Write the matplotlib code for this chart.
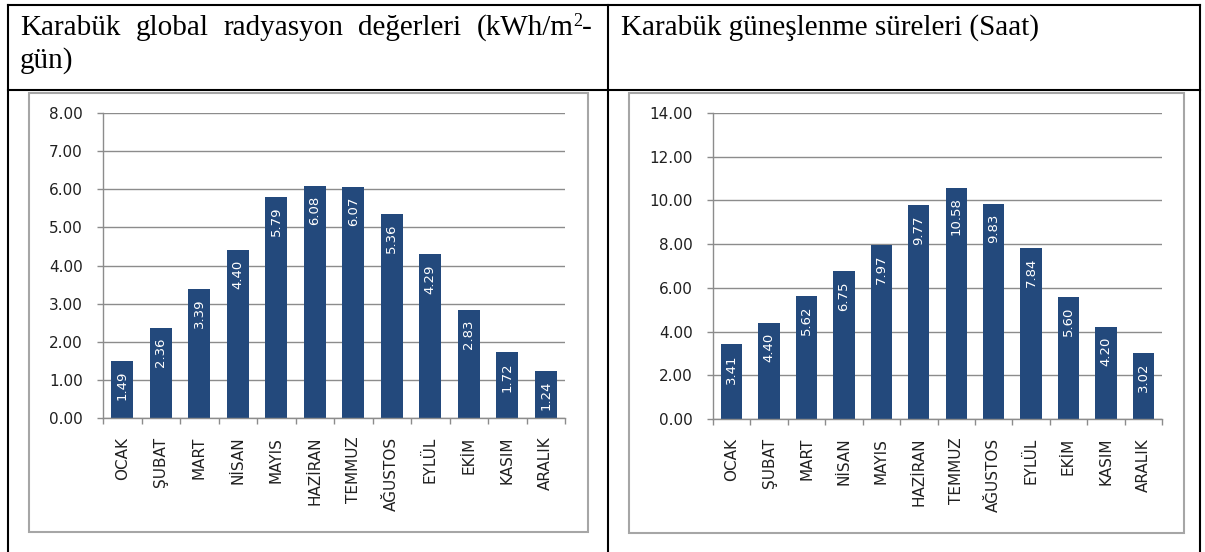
import numpy as np
import matplotlib
matplotlib.use('Agg')
import matplotlib.pyplot as plt
from matplotlib.patches import Rectangle
from matplotlib.ticker import FormatStrFormatter

months = ['OCAK', 'ŞUBAT', 'MART', 'NİSAN', 'MAYIS', 'HAZİRAN',
          'TEMMUZ', 'AĞUSTOS', 'EYLÜL', 'EKİM', 'KASIM', 'ARALIK']
radiation = [1.49, 2.36, 3.39, 4.40, 5.79, 6.08, 6.07, 5.36, 4.29, 2.83, 1.72, 1.24]
sunshine = [3.41, 4.40, 5.62, 6.75, 7.97, 9.77, 10.58, 9.83, 7.84, 5.60, 4.20, 3.02]

title_left = ['Karabük', 'global', 'radyasyon', 'değerleri', '(kWh/m']
title_left_2 = 'gün)'
title_right = 'Karabük güneşlenme süreleri (Saat)'

BAR = '#23497C'
GRID = '#8C8C8C'
W, H = 1205, 552

plt.rcParams['font.family'] = 'DejaVu Sans'

fig = plt.figure(figsize=(W / 100, H / 100), dpi=100)

# background layer in pixel coordinates: table lines, chart frames, header text
bg = fig.add_axes([0, 0, 1, 1])
bg.set_xlim(0, W)
bg.set_ylim(H, 0)
bg.axis('off')

lw_tab = 1.5
bg.plot([8, 1200], [5, 5], color='black', lw=lw_tab)
bg.plot([8, 1200], [90, 90], color='black', lw=lw_tab)
for xv in [8, 608, 1200]:
    bg.plot([xv, xv], [5, H], color='black', lw=lw_tab)

for (x0, y0, x1, y1) in [(29, 93, 588, 532), (629, 93, 1184, 533)]:
    bg.add_patch(Rectangle((x0, y0), x1 - x0, y1 - y0, fill=False,
                           edgecolor='#A6A6A6', lw=1.5))

# justified first header line, with a small raised "2" and a trailing hyphen
serif = dict(family='Liberation Serif', color='black', va='baseline', ha='left')
words = [bg.text(0, 35, w, fontsize=21, **serif) for w in title_left]
sup = bg.text(0, 26, '2', fontsize=13, **serif)
dash = bg.text(0, 35, '-', fontsize=21, **serif)
renderer = fig.canvas.get_renderer()
widths = [t.get_window_extent(renderer).width for t in words]
w_sup = sup.get_window_extent(renderer).width
w_dash = dash.get_window_extent(renderer).width
gap = (592 - 20 - sum(widths) - w_sup - w_dash) / (len(words) - 1)
xpos = 20
for t, wd in zip(words, widths):
    t.set_x(xpos)
    xpos += wd + gap
xpos -= gap
sup.set_x(xpos)
dash.set_x(xpos + w_sup)
bg.text(20, 68, title_left_2, fontsize=21, **serif)
bg.text(621, 35, title_right, fontsize=21, **serif)


def draw_chart(rect, values, ymax, step):
    ax = fig.add_axes(rect)
    x = np.arange(len(months))
    ax.bar(x, values, width=0.57, color=BAR, zorder=2)
    ax.set_xlim(-0.5, 11.5)
    ax.set_ylim(0, ymax)
    ax.set_yticks(np.arange(0, ymax + step / 2, step))
    ax.yaxis.set_major_formatter(FormatStrFormatter('%.2f'))
    ax.yaxis.grid(True, color=GRID, lw=1.0, zorder=0)
    ax.set_axisbelow(True)
    for s in ['top', 'right']:
        ax.spines[s].set_visible(False)
    for s in ['left', 'bottom']:
        ax.spines[s].set_color(GRID)
        ax.spines[s].set_linewidth(1.0)
    ax.set_xticks(x)
    ax.set_xticklabels(months, rotation=90, fontsize=11, color='#202020')
    ax.set_xticks(np.arange(-0.5, 12, 1), minor=True)
    ax.tick_params(axis='x', which='major', length=0, pad=13.5)
    ax.tick_params(axis='x', which='minor', length=4, width=1, color=GRID)
    ax.tick_params(axis='y', length=4.5, width=1, color=GRID, pad=10,
                   labelsize=11, labelcolor='#202020')
    for xi, v in zip(x, values):
        ax.annotate(f'{v:.2f}', (xi, v), xytext=(0, -7), textcoords='offset points',
                    ha='center', va='top', rotation=90, color='white', fontsize=9.5)
    return ax


draw_chart([103 / W, 1 - 418 / H, 462 / W, 305 / H], radiation, 8, 1)
draw_chart([713 / W, 1 - 419 / H, 449 / W, 306 / H], sunshine, 14, 2)

fig.savefig('out.png', dpi=100)
